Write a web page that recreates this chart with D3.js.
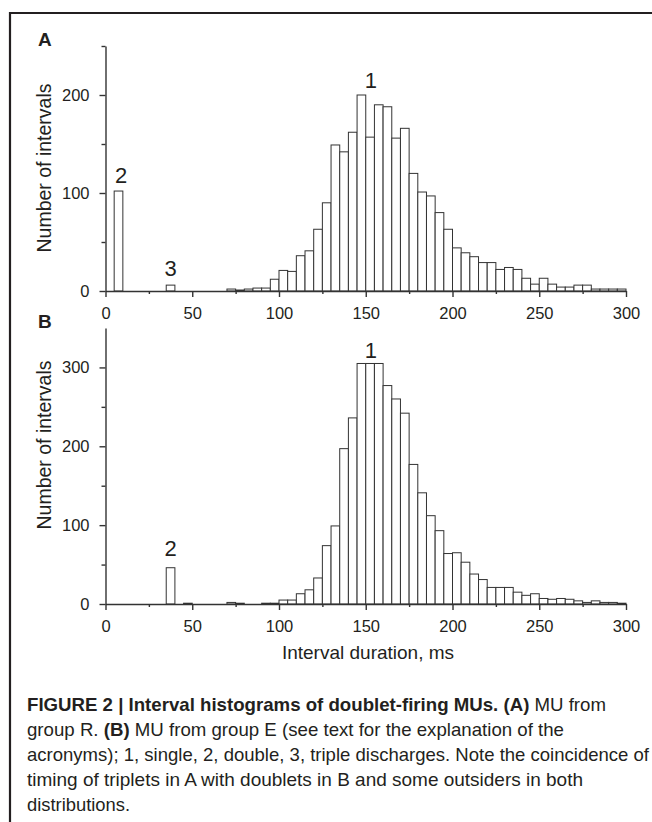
<!DOCTYPE html>
<html>
<head>
<meta charset="utf-8">
<script src="https://cdn.jsdelivr.net/npm/d3@7"></script>
<style>
  body { margin: 0; background: #fff; }
  text { font-family: "Liberation Sans", Arial, sans-serif; fill: #231f20; }
</style>
</head>
<body>
<script>
// interval histograms, 5 ms bins from 0 to 300 ms
const binStart = d3.range(0, 300, 5);

const countsA = [
  0, 102, 0, 0, 0, 0, 0, 6, 0, 0,
  0, 0, 0, 0, 2, 1, 2, 3, 3, 12,
  21, 20, 36, 41, 63, 90, 149, 142, 162, 200,
  157, 190, 188, 156, 166, 120, 101, 97, 80, 63,
  44, 39, 35, 29, 29, 22, 24, 22, 13, 7,
  13, 7, 4, 4, 6, 6, 2, 2, 2, 2
];

const countsB = [
  0, 0, 0, 0, 0, 0, 0, 46, 0, 1,
  0, 0, 0, 0, 2, 1, 0, 0, 1, 1,
  5, 5, 13, 18, 33, 74, 99, 197, 236, 305,
  305, 305, 277, 260, 242, 177, 141, 112, 93, 64,
  65, 53, 38, 31, 21, 21, 21, 15, 11, 13,
  7, 6, 7, 6, 4, 2, 4, 2, 2, 1
];

const xMajor = [0, 50, 100, 150, 200, 250, 300];
const xMinor = [25, 75, 125, 175, 225, 275];
const yMajorA = [0, 100, 200];
const yMinorA = [50, 150, 250];
const yMajorB = [0, 100, 200, 300];
const yMinorB = [50, 150, 250];

// peak labels: text, ms, count
const marksA = [["1", 153, 207], ["2", 9, 110], ["3", 37.5, 15]];
const marksB = [["1", 153, 312], ["2", 37.5, 61]];

const width = 652, height = 822;
const ink = '#231f20', lineCol = '#333';

const svg = d3.select('body').append('svg')
    .attr('width', width)
    .attr('height', height);

// figure frame (top and left edges)
svg.append('path')
    .attr('d', 'M10,822V13H652')
    .attr('fill', 'none')
    .attr('stroke', ink)
    .attr('stroke-width', 2.2);

const x = d3.scaleLinear().domain([0, 300]).range([105.5, 626]);

function panel(letter, counts, yMax, yTop, yBase, yMajor, yMinor, marks, labelY) {
    const y = d3.scaleLinear().domain([0, yMax]).range([yBase, yTop]);
    const g = svg.append('g');

    g.selectAll('rect')
        .data(binStart.map((s, i) => ({s, v: counts[i]})).filter(d => d.v > 0))
        .join('rect')
        .attr('x', d => x(d.s))
        .attr('width', d => x(d.s + 5) - x(d.s))
        .attr('y', d => y(d.v))
        .attr('height', d => y(0) - y(d.v))
        .attr('fill', '#fff')
        .attr('stroke', lineCol)
        .attr('stroke-width', 1);

    g.append('g')
        .attr('transform', `translate(0,${yBase})`)
        .call(d3.axisBottom(x).tickValues(xMajor).tickSize(6).tickSizeOuter(0).tickPadding(10));
    g.append('g')
        .attr('transform', `translate(0,${yBase})`)
        .call(d3.axisBottom(x).tickValues(xMinor).tickSize(3).tickFormat(''))
        .call(a => a.select('.domain').remove());

    g.append('g')
        .attr('transform', `translate(${x(0)},0)`)
        .call(d3.axisLeft(y).tickValues(yMajor).tickSize(6).tickSizeOuter(0).tickPadding(10));
    g.append('g')
        .attr('transform', `translate(${x(0)},0)`)
        .call(d3.axisLeft(y).tickValues(yMinor).tickSize(4).tickFormat(''))
        .call(a => a.select('.domain').remove());

    g.selectAll('.domain, .tick line')
        .attr('stroke', lineCol)
        .attr('stroke-width', 1.4);
    g.selectAll('.tick text')
        .attr('font-size', 16.5)
        .attr('font-family', '"Liberation Sans", Arial, sans-serif')
        .attr('fill', ink);

    g.selectAll('.mark')
        .data(marks)
        .join('text')
        .attr('class', 'mark')
        .attr('x', d => x(d[1]))
        .attr('y', d => y(d[2]))
        .attr('text-anchor', 'middle')
        .attr('font-size', 22)
        .text(d => d[0]);

    g.append('text')
        .attr('x', 38)
        .attr('y', yTop)
        .attr('font-size', 19)
        .attr('font-weight', 'bold')
        .text(letter);

    g.append('text')
        .attr('transform', `translate(51,${labelY}) rotate(-90)`)
        .attr('text-anchor', 'middle')
        .attr('font-size', 19.5)
        .text('Number of intervals');
}

panel('A', countsA, 250, 46, 291, yMajorA, yMinorA, marksA, 168);
panel('B', countsB, 350, 328, 604, yMajorB, yMinorB, marksB, 445);

svg.append('text')
    .attr('x', 368)
    .attr('y', 659)
    .attr('text-anchor', 'middle')
    .attr('font-size', 19)
    .text('Interval duration, ms');

// caption
const caption = [
    [[true, 'FIGURE 2 | Interval histograms of doublet-firing MUs. (A)'], [false, ' MU from']],
    [[false, 'group R. '], [true, '(B)'], [false, ' MU from group E (see text for the explanation of the']],
    [[false, 'acronyms); 1, single, 2, double, 3, triple discharges. Note the coincidence of']],
    [[false, 'timing of triplets in A with doublets in B and some outsiders in both']],
    [[false, 'distributions.']]
];
const capWidths = [579, 537, 622, 556, 103];

caption.forEach((parts, i) => {
    const t = svg.append('text')
        .attr('x', 27)
        .attr('y', 711 + i * 25)
        .attr('font-size', 18.5)
        .attr('textLength', capWidths[i])
        .attr('lengthAdjust', 'spacingAndGlyphs');
    parts.forEach(([b, s]) => {
        t.append('tspan')
            .attr('font-weight', b ? 'bold' : 'normal')
            .text(s);
    });
});
</script>
</body>
</html>
